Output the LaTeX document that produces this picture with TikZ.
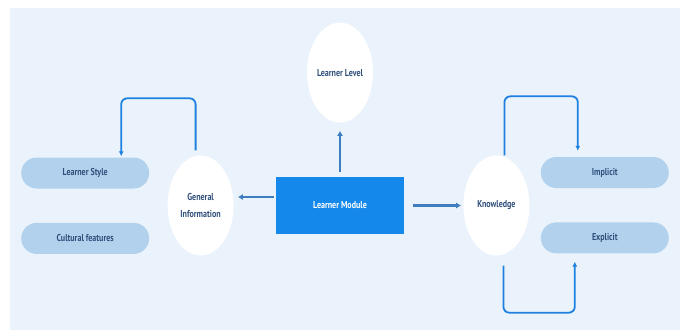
\documentclass[tikz,border=0pt]{standalone}
\usepackage{fontspec}
\setmainfont{PT Sans}[FakeStretch=0.8]
\usepackage{xcolor}
\definecolor{bgblue}{RGB}{234,243,251}
\definecolor{pillblue}{RGB}{178,209,236}
\definecolor{modblue}{RGB}{21,136,236}
\definecolor{textblue}{RGB}{48,80,124}
\definecolor{loopblue}{RGB}{30,128,224}
\definecolor{arrowblue}{RGB}{62,126,192}
\usepackage{tikz}
\usetikzlibrary{
    shapes.geometric,
    arrows.meta,
    positioning
}
\tikzstyle{arrow} = [
    line width=2.2pt,
    arrowblue,
    -{Latex[length=5pt, width=6pt]}
]
\tikzstyle{looparrow} = [
    line width=1.8pt,
    loopblue,
    rounded corners=6pt,
    -{Latex[length=5pt, width=5pt]}
]

\begin{document}
\begin{tikzpicture}[
  x=1pt, y=-1pt,
  font=\fontsize{10}{12}\selectfont\bfseries,
  circ/.style={ellipse, fill=white, minimum width=66pt, minimum height=100pt,
    inner sep=0pt, text=textblue, align=center,
    font=\fontsize{10}{16.5}\selectfont\bfseries},
  pill/.style={rounded corners=15.5pt, fill=pillblue, minimum width=128pt,
    minimum height=31pt, text=textblue}
]
\useasboundingbox (0,0) rectangle (686,333);
\fill[white] (0,0) rectangle (686,333);
\fill[bgblue] (10,8) rectangle (680,330);

\node (mod) [fill=modblue, text=white, minimum width=128pt, minimum height=57pt] at (340,205.5) {Learner Module};
\node (lvl)  [circ, above=54pt of mod] {Learner Level};
\node (gen)  [circ, left=42pt of mod] {General\\Information};
\node (know) [circ, right=59pt of mod] {Knowledge};

\node (style) [pill, left=18pt of gen, yshift=32.5pt] {Learner Style};
\node (cult)  [pill, below=34pt of style] {Cultural features};
\node (impl)  [pill, right=11pt of know, yshift=33pt] {Implicit};
\node (expl)  [pill, below=34pt of impl] {Explicit};

\draw[arrow] ([yshift=5pt]mod.north) -- ([yshift=-8pt]lvl.south);
\draw[arrow] ([xshift=-2pt, yshift=8.5pt]mod.west) -- ([xshift=4pt, yshift=8.5pt]gen.east);
\draw[arrow] ([xshift=9pt]mod.east) -- ([xshift=-2pt]know.west);

\draw[looparrow] ([xshift=-5pt, yshift=5pt]gen.north) -- ++(0,-52) -| ([xshift=36pt, yshift=1pt]style.north);
\draw[looparrow] ([xshift=8pt]know.north) -- ++(0,-59) -| ([xshift=-27pt, yshift=6pt]impl.north);
\draw[looparrow] ([xshift=7pt, yshift=-10pt]know.south) -- ++(0,47) -| ([xshift=-30pt, yshift=-8pt]expl.south);

\end{tikzpicture}
\end{document}
